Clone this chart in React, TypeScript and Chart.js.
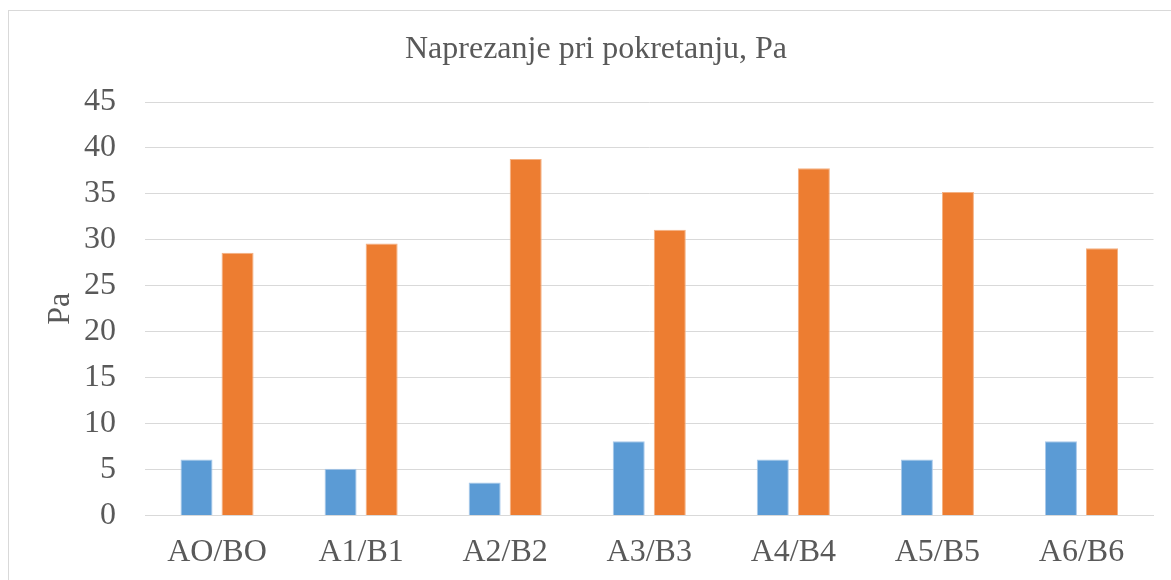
import React, { useEffect, useRef } from "react";
import { Chart, registerables } from "chart.js";

Chart.register(...registerables);

const categories = ["AO/BO", "A1/B1", "A2/B2", "A3/B3", "A4/B4", "A5/B5", "A6/B6"];
const seriesA = [6.1, 5.1, 3.6, 8.1, 6.1, 6.1, 8.1];
const seriesB = [28.6, 29.6, 38.8, 31.1, 37.8, 35.2, 29.1];
const titleText = "Naprezanje pri pokretanju, Pa";
const yTitle = "Pa";

const FONT = '"Liberation Serif", "Times New Roman", serif';
const TEXT = "#595959";
const GRID = "#d9d9d9";

export default function App() {
  const ref = useRef<HTMLCanvasElement | null>(null);

  useEffect(() => {
    if (!ref.current) return;
    const chart = new Chart(ref.current, {
      type: "bar",
      data: {
        labels: categories,
        datasets: [
          {
            label: "A",
            data: seriesA,
            backgroundColor: "#5B9BD5",
            borderColor: "#A9C9EA",
            borderWidth: 1,
            categoryPercentage: 0.57,
            barPercentage: 0.78,
          },
          {
            label: "B",
            data: seriesB,
            backgroundColor: "#ED7D31",
            borderColor: "#F4B183",
            borderWidth: 1,
            categoryPercentage: 0.57,
            barPercentage: 0.78,
          },
        ],
      },
      options: {
        responsive: false,
        animation: false,
        layout: { padding: { left: 29.5, right: 17.5, top: 0, bottom: -10 } },
        plugins: {
          legend: { display: false },
          tooltip: { enabled: false },
          title: {
            display: true,
            text: titleText,
            color: TEXT,
            font: { family: FONT, size: 32, weight: "normal" },
            padding: { top: 19.5, bottom: 33.1 },
          },
        },
        scales: {
          x: {
            grid: { display: false, drawTicks: false },
            border: { display: true, color: GRID, width: 1 },
            ticks: {
              color: TEXT,
              font: { family: FONT, size: 32 },
              padding: 18,
              maxRotation: 0,
              autoSkip: false,
            },
          },
          y: {
            min: 0,
            max: 45,
            afterFit: (s: any) => {
              s.width = 106.5;
            },
            grid: { color: GRID, lineWidth: 1, drawTicks: false },
            border: { display: false },
            ticks: {
              stepSize: 5,
              color: TEXT,
              font: { family: FONT, size: 32 },
              padding: 29,
            },
            title: {
              display: true,
              text: yTitle,
              color: TEXT,
              font: { family: FONT, size: 32, weight: "normal" },
              padding: { top: 3.3, bottom: 0 },
            },
          },
        },
      },
    });
    return () => chart.destroy();
  }, []);

  return (
    <div
      style={{
        position: "absolute",
        left: 8,
        top: 10,
        width: 1163,
        height: 570,
        borderLeft: "1px solid #d9d9d9",
        borderTop: "1px solid #d9d9d9",
        boxSizing: "border-box",
        background: "#fff",
      }}
    >
      <canvas ref={ref} width={1162} height={569} style={{ display: "block" }} />
    </div>
  );
}
